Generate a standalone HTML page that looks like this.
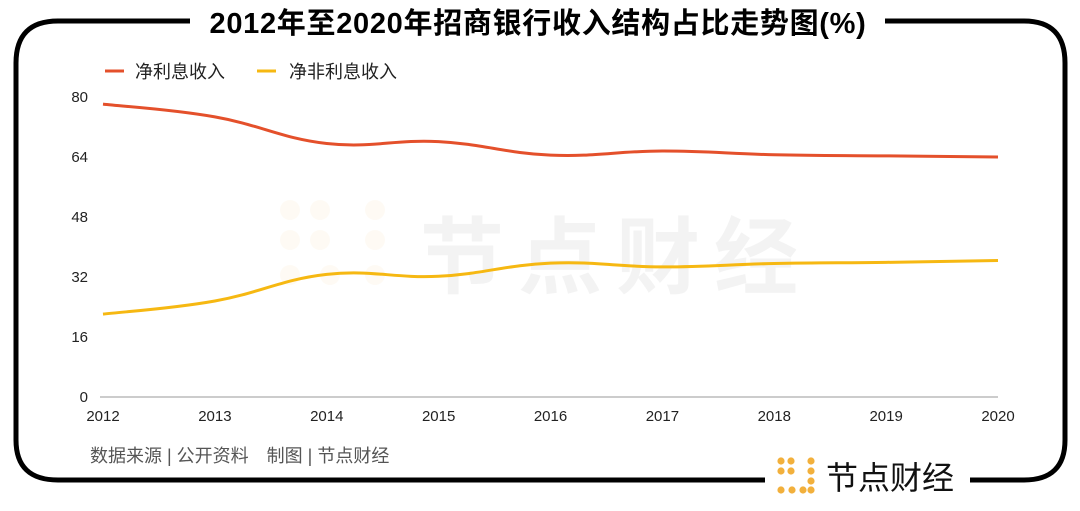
<!DOCTYPE html>
<html><head><meta charset="utf-8">
<style>
html,body{margin:0;padding:0;background:#fff;}
body{width:1080px;height:506px;overflow:hidden;font-family:"Liberation Sans","Noto Sans CJK SC",sans-serif;}
</style></head>
<body>
<svg id="c" width="1080" height="506" xmlns="http://www.w3.org/2000/svg">
  <g fill="none" stroke="#000" stroke-width="5">
    <path d="M190,21 H58 Q16,21 16,63 V440 Q16,480 58,480 H765"/>
    <path d="M970,480 H1024 Q1065,480 1065,440 V63 Q1065,21 1024,21 H885"/>
  </g>
  <text x="538" y="33" text-anchor="middle" font-size="29" font-weight="bold" letter-spacing="0.7" fill="#000">2012年至2020年招商银行收入结构占比走势图(%)</text>
  <g font-size="18" fill="#222">
    <line x1="105" y1="71" x2="124" y2="71" stroke="#e4502b" stroke-width="3"/>
    <text x="135" y="78">净利息收入</text>
    <line x1="257" y1="71" x2="276" y2="71" stroke="#f6b812" stroke-width="3"/>
    <text x="289" y="78">净非利息收入</text>
  </g>
  <g opacity="0.045">
    <text x="420" y="287" font-size="84" font-weight="bold" letter-spacing="14" fill="#000">节点财经</text>
    <g fill="#f0a020"><circle cx="290" cy="210" r="10"/><circle cx="320" cy="210" r="10"/><circle cx="375" cy="210" r="10"/><circle cx="375" cy="240" r="10"/><circle cx="290" cy="240" r="10"/><circle cx="320" cy="240" r="10"/><circle cx="290" cy="275" r="10"/><circle cx="330" cy="275" r="10"/><circle cx="375" cy="275" r="10"/></g>
  </g>
  <g id="axes"></g>
  <g id="series"></g>
  <text x="90" y="462" font-size="18" fill="#555">数据来源 | 公开资料　制图 | 节点财经</text>
  <g>
    <g fill="#f2b03c">
      <circle cx="781" cy="461" r="3.6"/><circle cx="791" cy="461" r="3.6"/><circle cx="811" cy="461" r="3.6"/>
      <circle cx="781" cy="471" r="3.6"/><circle cx="791" cy="471" r="3.6"/><circle cx="811" cy="471" r="3.6"/>
      <circle cx="781" cy="490" r="3.6"/><circle cx="792" cy="490" r="3.6"/><circle cx="803" cy="490" r="3.6"/><circle cx="811" cy="481" r="3.6"/><circle cx="811" cy="490" r="3.6"/>
    </g>
    <text x="826" y="489" font-size="32" fill="#111">节点财经</text>
  </g>
</svg>
<script>
const years = ["2012","2013","2014","2015","2016","2017","2018","2019","2020"];
const netInterest = [78.1, 74.7, 67.6, 68.1, 64.5, 65.6, 64.6, 64.3, 64.0];
const nonInterest = [22.1, 25.6, 32.7, 32.2, 35.7, 34.7, 35.6, 35.9, 36.4];
const yTicks = [0, 16, 32, 48, 64, 80];

const NS = "http://www.w3.org/2000/svg";
const x0 = 103, x1 = 998, yBase = 397, yTop = 97;
function xs(i){ return x0 + (x1 - x0) * i / (years.length - 1); }
function ys(v){ return yBase - (yBase - yTop) * v / 80; }
function mk(tag, attrs){ const e = document.createElementNS(NS, tag); for (const k in attrs) e.setAttribute(k, attrs[k]); return e; }

const axes = document.getElementById('axes');
const axisLine = mk('line', {x1: 100, x2: x1, y1: yBase, y2: yBase, stroke: '#999', 'stroke-width': 1});


axes.appendChild(axisLine);
yTicks.forEach(t => {
  const tx = mk('text', {x: 88, y: ys(t) + 5, 'text-anchor': 'end', 'font-size': 15, fill: '#222'});
  tx.textContent = t;
  
  
  axes.appendChild(tx);
});
years.forEach((y, i) => {
  const tx = mk('text', {x: xs(i), y: 421, 'text-anchor': 'middle', 'font-size': 15, fill: '#222'});
  tx.textContent = y;
  
  
  axes.appendChild(tx);
});

function smooth(vals){
  const p = vals.map((v, i) => [xs(i), ys(v)]);
  let d = 'M' + p[0][0] + ',' + p[0][1];
  const t = 0.2;
  for (let i = 0; i < p.length - 1; i++) {
    const a = p[Math.max(i - 1, 0)], b = p[i], c = p[i + 1], e = p[Math.min(i + 2, p.length - 1)];
    const c1x = b[0] + (c[0] - a[0]) * t, c1y = b[1] + (c[1] - a[1]) * t;
    const c2x = c[0] - (e[0] - b[0]) * t, c2y = c[1] - (e[1] - b[1]) * t;
    d += ' C' + c1x + ',' + c1y + ' ' + c2x + ',' + c2y + ' ' + c[0] + ',' + c[1];
  }
  return d;
}
const series = document.getElementById('series');
const l1 = mk('path', {d: smooth(netInterest), fill: 'none', stroke: '#e4502b', 'stroke-width': 3});


series.appendChild(l1);
const l2 = mk('path', {d: smooth(nonInterest), fill: 'none', stroke: '#f6b812', 'stroke-width': 3});


series.appendChild(l2);
</script>
</body></html>
